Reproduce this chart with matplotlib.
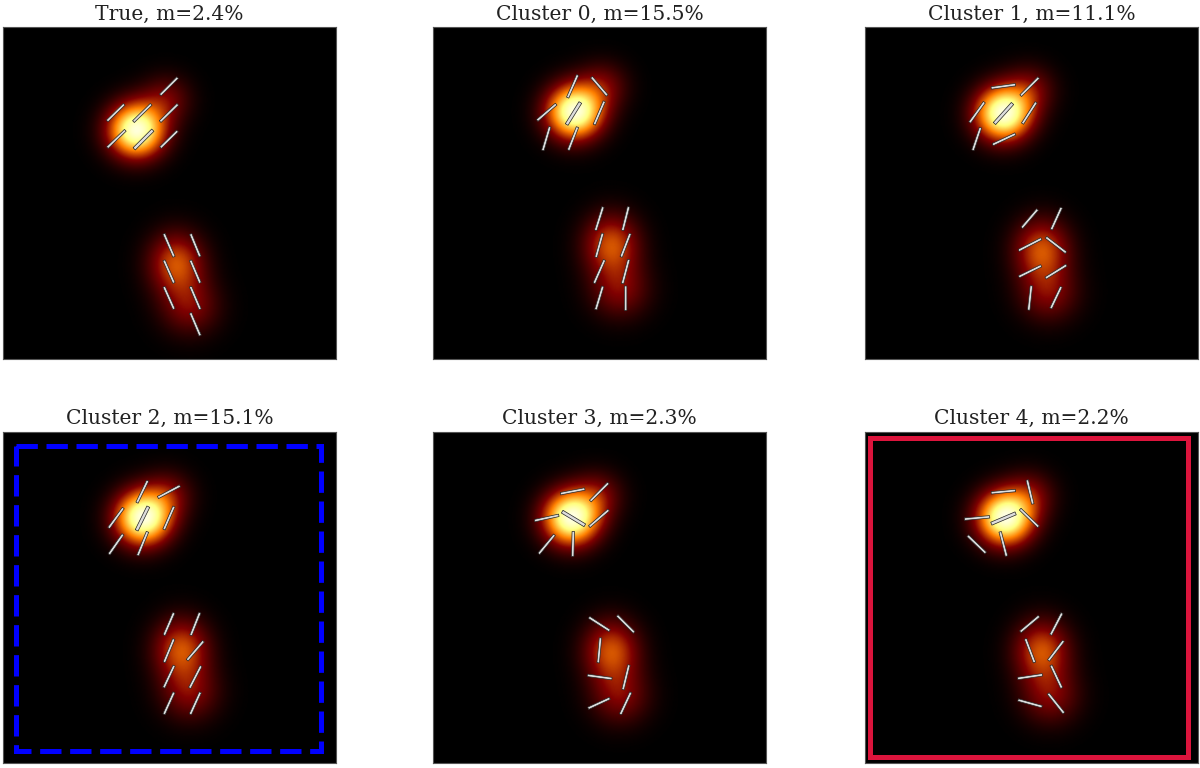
import numpy as np
import matplotlib
matplotlib.use("Agg")
import matplotlib.pyplot as plt
from matplotlib.patches import Rectangle

titles = ["True, m=2.4%", "Cluster 0, m=15.5%", "Cluster 1, m=11.1%",
          "Cluster 2, m=15.1%", "Cluster 3, m=2.3%", "Cluster 4, m=2.2%"]

# Polarisation sticks per panel: centre x, centre y, extent u, extent v (field units, y down)
true_x = [497, 337, 417, 497, 339, 418, 497, 497, 576, 497, 576, 497, 576, 576]
true_y = [177, 256, 257, 257, 335, 336, 336, 654, 654, 733, 733, 812, 812, 891]
true_u = [52, 51, 53, 53, 54, 56, 51, 30, 28, 30, 29, 30, 29, 29]
true_v = [-52, -50, -52, -52, -52, -56, -50, 69, 68, 68, 68, 67, 68, 68]

c0_x = [418, 498, 340, 418, 498, 339, 419, 498, 577, 498, 577, 498, 577, 498, 577]
c0_y = [177, 177, 255, 256, 257, 334, 334, 574, 574, 654, 654, 733, 733, 812, 813]
c0_u = [30, 47, 57, 41, 30, 21, 27, 22, 18, 20, 27, 31, 19, 21, 0]
c0_v = [-68, 55, -49, -66, -70, -71, -69, -70, -71, -72, -70, -70, -72, -70, -74]

c1_x = [415, 494, 336, 415, 493, 335, 417, 494, 574, 495, 573, 495, 573, 495, 573]
c1_y = [177, 178, 255, 256, 257, 335, 336, 574, 574, 652, 653, 732, 733, 812, 811]
c1_u = [73, 54, 44, 54, 41, 23, 68, 47, 30, 68, 60, 67, 63, 8, 31]
c1_v = [-10, -54, -61, -60, -64, -68, -32, -55, -66, -35, 46, -33, -39, -73, -65]

c2_x = [417, 497, 338, 417, 497, 338, 418, 497, 576, 497, 576, 497, 576, 497, 576]
c2_y = [179, 179, 258, 258, 258, 337, 335, 576, 576, 656, 656, 734, 735, 814, 814]
c2_u = [32, 66, 44, 35, 30, 42, 29, 29, 27, 29, 49, 31, 34, 30, 30]
c2_v = [-66, -35, -60, -71, -69, -60, -71, -67, -68, -70, -57, -66, -66, -66, -66]

c3_x = [418, 498, 340, 419, 497, 340, 419, 498, 577, 498, 499, 578, 497, 577]
c3_y = [178, 180, 258, 259, 259, 337, 336, 576, 576, 655, 735, 736, 814, 814]
c3_u = [73, 54, 73, 68, 58, 47, 2, 62, 51, 7, 74, 18, 65, 31]
c3_v = [-14, -54, -16, 41, -50, -57, -75, 40, 51, -75, 10, -74, -30, -66]

c4_x = [415, 495, 336, 415, 493, 335, 415, 494, 574, 495, 573, 495, 574, 495, 573]
c4_y = [179, 180, 258, 258, 258, 337, 336, 576, 576, 656, 656, 734, 734, 814, 814]
c4_u = [73, 17, 76, 73, 55, 54, 19, 56, 34, 27, 45, 74, 32, 72, 47]
c4_v = [-7, 72, -7, -31, 53, 52, 73, -47, -65, 71, -59, -11, 68, 20, 59]

sticks = [(true_x, true_y, true_u, true_v), (c0_x, c0_y, c0_u, c0_v), (c1_x, c1_y, c1_u, c1_v),
          (c2_x, c2_y, c2_u, c2_v), (c3_x, c3_y, c3_u, c3_v), (c4_x, c4_y, c4_u, c4_v)]
wide_stick = [5, 3, 3, 3, 3, 3]

# Brightness blobs per panel: centres of the bright source and its faint companion
main_x = [400, 425, 415, 420, 415, 420]
main_y = [308, 253, 258, 259, 259, 259]
upper_x = [490, 510, 495, 495, 495, 495]
upper_y = [215, 175, 185, 190, 190, 190]
low_x = [520, 535, 530, 535, 535, 530]
low_y = [708, 653, 668, 654, 659, 659]
tail_x = [560, 560, 550, 560, 560, 555]
tail_y = [838, 788, 798, 784, 794, 794]
main_amp = 0.92
upper_amp = 0.20
low_amp = 0.40
tail_amp = 0.23

panel_left = [3.3, 433.3, 865, 3.3, 433.3, 865]
panel_top = [27.3, 27.3, 27.3, 432, 432, 432]

W, H = 1200, 768
fig = plt.figure(figsize=(W / 100, H / 100), dpi=100)
xx, yy = np.meshgrid(np.linspace(0, 998, 300), np.linspace(0, 994, 300))


def blob(cx, cy, amp, sx, sy):
    return amp * np.exp(-0.5 * (((xx - cx) / sx) ** 2 + ((yy - cy) / sy) ** 2))


for i in range(6):
    ax = fig.add_axes([panel_left[i] / W, 1 - (panel_top[i] + 331.3) / H, 332.7 / W, 331.3 / H])
    img = (blob(main_x[i], main_y[i], main_amp, 58, 56)
           + blob(upper_x[i], upper_y[i], upper_amp, 52, 50)
           + blob(low_x[i], low_y[i], low_amp, 58, 64)
           + blob(tail_x[i], tail_y[i], tail_amp, 62, 60))
    ax.imshow(img, cmap="afmhot", vmin=0, vmax=1, extent=(0, 998, 994, 0),
              interpolation="bilinear", aspect="auto")
    x, y, u, v = [np.array(a, float) for a in sticks[i]]
    mask = np.ones(len(x), bool)
    mask[wide_stick[i]] = False
    kw = dict(pivot="mid", angles="xy", scale_units="xy", scale=1, units="xy",
              headwidth=1, headlength=0.01, headaxislength=0.01, minshaft=1, minlength=0,
              facecolor="#dddddd", edgecolor="#222222", linewidth=0.5, zorder=3)
    ax.quiver(x[mask], y[mask], u[mask], v[mask], width=7.5, **kw)
    ax.quiver(x[~mask], y[~mask], u[~mask], v[~mask], width=9.5, **kw)
    ax.set_xlim(0, 998)
    ax.set_ylim(994, 0)
    ax.set_xticks([])
    ax.set_yticks([])
    for s in ax.spines.values():
        s.set_linewidth(0.8)
        s.set_color("#555555")
    ax.set_title(titles[i], family="DejaVu Serif", fontsize=14.6, color="#222222", pad=5.5)
    if i == 3:
        ax.add_patch(Rectangle((38, 42), 914, 914, fill=False, edgecolor="#0000ff", lw=3.6,
                               linestyle=(0, (4.27, 1.73)), zorder=4))
    if i == 5:
        ax.add_patch(Rectangle((16, 19), 954, 955, fill=False, edgecolor="#dc143c", lw=3.6,
                               zorder=4))

fig.savefig("out.png", dpi=100)
